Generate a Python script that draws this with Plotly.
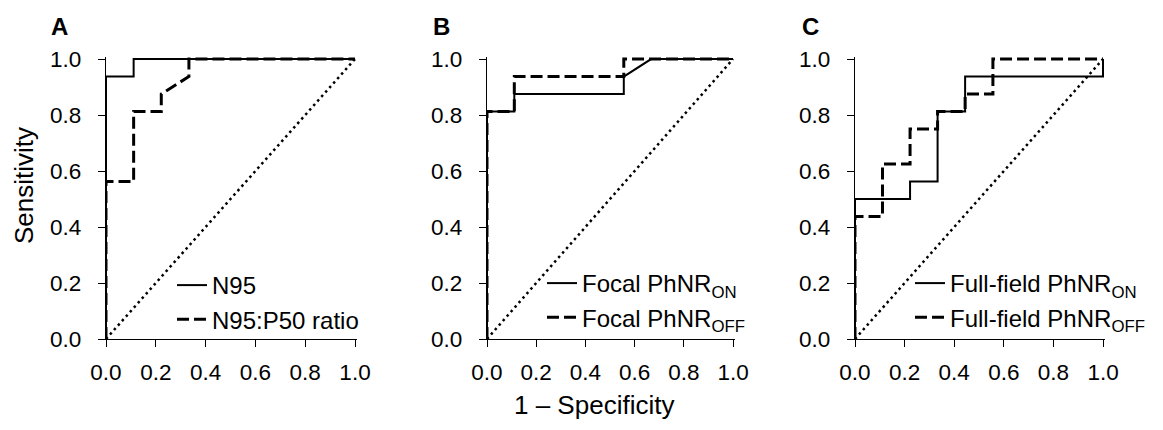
import plotly.graph_objects as go

# ---------------- data ----------------
diag_x = [0.0, 1.0]
diag_y = [0.0, 1.0]

# Panel A
a_n95_fpr = [0.0, 0.0, 0.111, 0.111, 1.0]
a_n95_tpr = [0.0, 0.9375, 0.9375, 1.0, 1.0]
a_ratio_fpr = [0.0, 0.0, 0.111, 0.111, 0.222, 0.222, 0.333, 0.333, 1.0]
a_ratio_tpr = [0.0, 0.5625, 0.5625, 0.8125, 0.8125, 0.875, 0.9375, 1.0, 1.0]

# Panel B
b_on_fpr = [0.0, 0.0, 0.111, 0.111, 0.556, 0.556, 0.667, 1.0]
b_on_tpr = [0.0, 0.8125, 0.8125, 0.875, 0.875, 0.9375, 1.0, 1.0]
b_off_fpr = [0.0, 0.0, 0.111, 0.111, 0.556, 0.556, 1.0]
b_off_tpr = [0.0, 0.8125, 0.8125, 0.9375, 0.9375, 1.0, 1.0]

# Panel C
c_on_fpr = [0.0, 0.0, 0.222, 0.222, 0.333, 0.333, 0.444, 0.444, 1.0, 1.0]
c_on_tpr = [0.0, 0.5, 0.5, 0.5625, 0.5625, 0.8125, 0.8125, 0.9375, 0.9375, 1.0]
c_off_fpr = [0.0, 0.0, 0.111, 0.111, 0.222, 0.222, 0.333, 0.333, 0.444, 0.444, 0.556, 0.556, 1.0]
c_off_tpr = [0.0, 0.4375, 0.4375, 0.625, 0.625, 0.75, 0.75, 0.8125, 0.8125, 0.875, 0.875, 1.0, 1.0]

names_a = ["N95", "N95:P50 ratio"]
names_b = ["Focal PhNR<sub>ON</sub>", "Focal PhNR<sub>OFF</sub>"]
names_c = ["Full-field PhNR<sub>ON</sub>", "Full-field PhNR<sub>OFF</sub>"]

tick_vals = [0.0, 0.2, 0.4, 0.6, 0.8, 1.0]
tick_text = ["0.0", "0.2", "0.4", "0.6", "0.8", "1.0"]
panel_labels = ["A", "B", "C"]

FONT = "Liberation Sans, Arial, sans-serif"
W, H = 1163, 430
FS_TICK = 22.5
FS_LEG = 24
FS_TITLE = 26

fig = go.Figure()

panels = [
    (a_n95_fpr, a_n95_tpr, a_ratio_fpr, a_ratio_tpr, names_a, "x", "y", "legend"),
    (b_on_fpr, b_on_tpr, b_off_fpr, b_off_tpr, names_b, "x2", "y2", "legend2"),
    (c_on_fpr, c_on_tpr, c_off_fpr, c_off_tpr, names_c, "x3", "y3", "legend3"),
]

for sx, sy, dx, dy, names, xa, ya, lg in panels:
    fig.add_trace(go.Scatter(x=diag_x, y=diag_y, mode="lines", xaxis=xa, yaxis=ya,
                             line=dict(color="black", width=2.5, dash="2.5px,3.5px"),
                             showlegend=False, hoverinfo="skip"))
    fig.add_trace(go.Scatter(x=sx, y=sy, mode="lines", xaxis=xa, yaxis=ya, name=names[0],
                             line=dict(color="black", width=2), legend=lg))
    fig.add_trace(go.Scatter(x=dx, y=dy, mode="lines", xaxis=xa, yaxis=ya, name=names[1],
                             line=dict(color="black", width=3, dash="12px,5px"), legend=lg))

# pixel layout
x_doms_px = [(106, 357), (487, 735), (855, 1105)]
y_dom_px = (339, 56.8)
y_dom = [1 - y_dom_px[0] / H, 1 - y_dom_px[1] / H]

axis_common = dict(
    showline=True, linecolor="black", linewidth=1.3,
    ticks="outside", ticklen=7, tickwidth=1.3, tickcolor="black",
    showgrid=False, zeroline=False, automargin=False,
    tickvals=tick_vals, ticktext=tick_text,
    tickfont=dict(family=FONT, size=FS_TICK, color="black"),
    range=[0, 1.008], fixedrange=True,
)

layout = dict(
    width=W, height=H, autosize=False,
    margin=dict(l=0, r=0, t=0, b=0, pad=0, autoexpand=False),
    paper_bgcolor="white", plot_bgcolor="white",
    font=dict(family=FONT, size=FS_TICK, color="black"),
)

for i, (x0, x1) in enumerate(x_doms_px):
    suf = "" if i == 0 else str(i + 1)
    layout["xaxis" + suf] = dict(axis_common, domain=[x0 / W, x1 / W],
                                 anchor="y" + suf, ticklabelstandoff=6)
    layout["yaxis" + suf] = dict(axis_common, domain=y_dom, anchor="x" + suf,
                                 ticklabelstandoff=12)

legend_pos_px = [(172, 263), (542, 261), (910, 261)]
for i, (lx, ly) in enumerate(legend_pos_px):
    key = "legend" if i == 0 else "legend" + str(i + 1)
    layout[key] = dict(x=lx / W, y=1 - ly / H, xanchor="left", yanchor="top",
                       bgcolor="rgba(0,0,0,0)", borderwidth=0,
                       font=dict(family=FONT, size=FS_LEG, color="black"),
                       tracegroupgap=0, itemwidth=30)

fig.update_layout(**layout)

label_x_px = [59, 441, 810]
for lab, lx in zip(panel_labels, label_x_px):
    fig.add_annotation(x=lx / W, y=1 - 26 / H, xref="paper", yref="paper",
                       xanchor="center", yanchor="middle",
                       text="<b>" + lab + "</b>", showarrow=False,
                       font=dict(family=FONT, size=24, color="black"))

fig.add_annotation(x=594 / W, y=1 - 405 / H, xref="paper", yref="paper",
                   xanchor="center", yanchor="middle",
                   text="1 – Specificity", showarrow=False,
                   font=dict(family=FONT, size=FS_TITLE, color="black"))
fig.add_annotation(x=24 / W, y=1 - 186 / H, xref="paper", yref="paper",
                   xanchor="center", yanchor="middle",
                   text="Sensitivity", showarrow=False, textangle=-90,
                   font=dict(family=FONT, size=FS_TITLE, color="black"))

fig.write_html("out.html")
